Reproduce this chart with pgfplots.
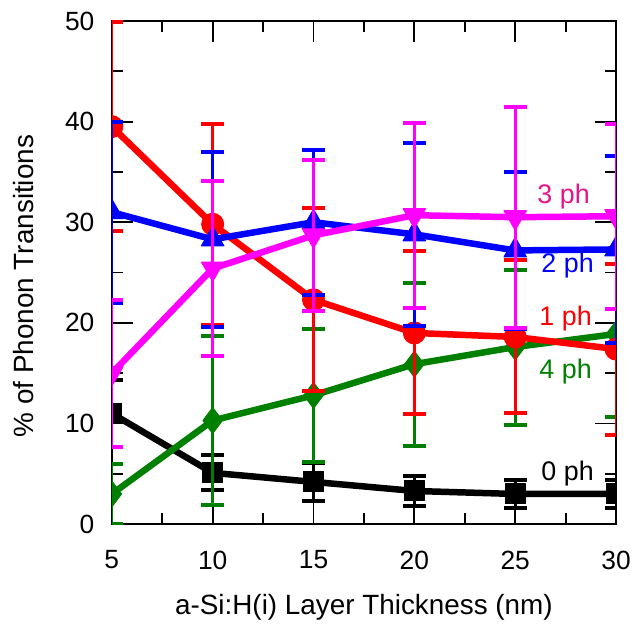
\documentclass[border=0pt]{standalone}
\usepackage{pgfplots}
\pgfplotsset{compat=1.18}
\usepackage{fontspec}
\setmainfont{Liberation Sans}
\definecolor{cgreen}{RGB}{0,128,0}
\definecolor{cmag}{RGB}{255,0,255}
\definecolor{cpink}{RGB}{230,20,140}
\pgfplotsset{myerr/.style={error bars/y dir=both, error bars/y explicit,
  error bars/error bar style={line width=3bp},
  error bars/error mark options={rotate=90, mark size=11.5bp, line width=4bp}}}
\newcommand{\tickf}{\fontsize{26.5}{31}\selectfont}
\newcommand{\labf}{\fontsize{28}{33}\selectfont}
\newcommand{\phf}{\fontsize{27}{32}\selectfont}
\begin{document}
\begin{tikzpicture}
\begin{axis}[
  scale only axis, width=505bp, height=504bp,
  xmin=5, xmax=30, ymin=0, ymax=50,
  xtick={5,10,...,30}, ytick={0,10,...,50},
  minor x tick num=1, minor y tick num=1,
  tick align=inside, major tick length=21bp, minor tick length=11bp,
  tick style={line width=1.8bp, black},
  axis line style={line width=2.2bp},
  ticklabel style={font=\tickf},
  /pgf/number format/assume math mode=true,
  yticklabel style={xshift=-14bp},
  xticklabel style={yshift=-23bp},
  xlabel={a-Si:H(i) Layer Thickness (nm)},
  ylabel={\% of Phonon Transitions},
  label style={font=\labf},
  xlabel style={at={(axis description cs:0.5,-0.165)}, anchor=center},
  ylabel style={at={(axis description cs:-0.176,0.473)}, anchor=center},
  clip marker paths=true,
  every axis plot/.append style={line width=6.5bp, line join=round},
]
\coordinate (ll) at (rel axis cs:0,0);
\coordinate (ur) at (rel axis cs:1,1);
% 0 ph
\addplot[black, mark=square*, mark size=10bp, mark options={solid,line width=1bp}, myerr]
  table[x=x, y=y, y error=e] {
x y e
5 11.0 3.3
10 5.1 1.75
15 4.2 1.9
20 3.3 1.5
25 3.0 1.4
30 3.0 1.4
};
% 4 ph
\addplot[cgreen, mark=diamond*, mark size=13bp, mark options={solid,line width=1bp}, myerr]
  table[x=x, y=y, y error=e] {
x y e
5 3.0 3.0
10 10.3 8.4
15 12.8 6.6
20 15.9 8.1
25 17.6 7.7
30 18.9 8.3
};
% 1 ph
\addplot[red, mark=*, mark size=11bp, mark options={solid,line width=1bp}, myerr]
  table[x=x, y=y, y error=e] {
x y e
5 39.5 10.4
10 29.8 10.0
15 22.3 9.1
20 19.0 8.1
25 18.6 7.6
30 17.4 8.5
};
% 2 ph
\addplot[blue, mark=triangle*, mark size=13bp, mark options={solid,line width=1bp}, myerr]
  table[x=x, y=y, y error=e] {
x y e
5 31.0 9.0
10 28.3 8.7
15 30.0 7.2
20 28.8 9.1
25 27.2 7.8
30 27.3 9.3
};
% 3 ph
\addplot[cmag, mark=triangle*, mark size=13bp, mark options={solid,rotate=180,line width=1bp}, myerr]
  table[x=x, y=y, y error=e] {
x y e
5 15.0 7.3
10 25.4 8.7
15 28.7 7.5
20 30.7 9.2
25 30.5 11.0
30 30.6 9.2
};
\node[font=\phf, text=cpink] at (axis cs:27.4,32.6) {3 ph};
\node[font=\phf, text=blue] at (axis cs:27.6,25.7) {2 ph};
\node[font=\phf, text=red] at (axis cs:27.5,20.4) {1 ph};
\node[font=\phf, text=cgreen] at (axis cs:27.5,15.2) {4 ph};
\node[font=\phf, text=black] at (axis cs:27.6,5.0) {0 ph};
\end{axis}
\path (ll) ++(-112bp,-102bp) (ur) ++(17bp,21bp);
\end{tikzpicture}
\end{document}
